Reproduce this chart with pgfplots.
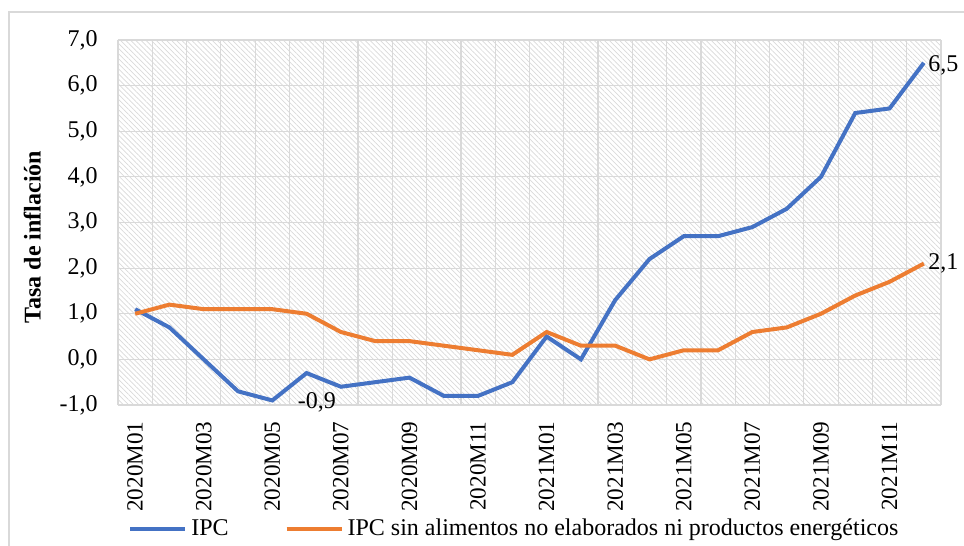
\documentclass[border=0pt]{standalone}
\usepackage{fontspec}
\setmainfont{Liberation Serif}
\usepackage{pgfplots}
\pgfplotsset{compat=1.18}
\usetikzlibrary{patterns.meta}
\definecolor{ipcblue}{HTML}{4472C4}
\definecolor{ipcorange}{HTML}{ED7D31}
\definecolor{gridgray}{HTML}{D9D9D9}
\begin{document}
\fontsize{12pt}{14pt}\selectfont
\begin{tikzpicture}
\path[use as bounding box] (-59pt,-70.5pt) rectangle (423pt,202.5pt);
\draw[gridgray, line width=0.6pt] (-54.5pt,-80pt) -- (-54.5pt,196.5pt) -- (430pt,196.5pt);
\begin{axis}[
  at={(0,0)}, anchor=south west,
  scale only axis, width=411.5pt, height=182.5pt,
  xmin=-0.5, xmax=23.5, ymin=-1, ymax=7,
  axis line style={draw=none},
  major tick length=0pt, minor tick length=0pt,
  xtick={0,2,...,22},
  xticklabels={2020M01,2020M03,2020M05,2020M07,2020M09,2020M11,2021M01,2021M03,2021M05,2021M07,2021M09,2021M11},
  minor xtick={-0.5,0.5,...,23.5},
  xminorgrids=true, xmajorgrids=false,
  ytick={-1,0,...,7},
  ymajorgrids=true,
  major grid style={gridgray, line width=0.6pt},
  minor grid style={gridgray, line width=0.6pt},
  axis background/.style={pattern={Lines[angle=-45,distance=1.8pt,line width=0.35pt]}, pattern color=black!15},
  xticklabel style={yshift=-4.5pt, rotate=90, anchor=east, inner sep=3.5pt, font=\fontsize{11.6pt}{13pt}\selectfont},
  yticklabel style={xshift=-6pt, font=\fontsize{12pt}{14pt}\selectfont},
  /pgf/number format/.cd, fixed, fixed zerofill, precision=1, use comma, assume math mode=true,
  /pgfplots/.cd,
  ylabel={Tasa de inflación},
  ylabel style={at={(axis description cs:-0.104,0.46)}, anchor=center, font=\bfseries\fontsize{12pt}{14pt}\selectfont},
  clip=false,
  legend columns=2,
  legend style={at={(axis description cs:0.012,-0.34)}, anchor=west, draw=none, fill=none, inner sep=0pt,
    font=\fontsize{12pt}{14pt}\selectfont,
    /tikz/every even column/.append style={column sep=26pt}},
  legend cell align=left,
  legend image code/.code={\draw[#1, line width=2pt] (0pt,0pt) -- (27.5pt,0pt);},
]
\addplot[ipcblue, line width=2pt] coordinates {
(0,1.1) (1,0.7) (2,0.0) (3,-0.7) (4,-0.9) (5,-0.3) (6,-0.6) (7,-0.5) (8,-0.4) (9,-0.8) (10,-0.8) (11,-0.5)
(12,0.5) (13,0.0) (14,1.3) (15,2.2) (16,2.7) (17,2.7) (18,2.9) (19,3.3) (20,4.0) (21,5.4) (22,5.5) (23,6.5)};
\addlegendentry{IPC}
\addplot[ipcorange, line width=2pt] coordinates {
(0,1.0) (1,1.2) (2,1.1) (3,1.1) (4,1.1) (5,1.0) (6,0.6) (7,0.4) (8,0.4) (9,0.3) (10,0.2) (11,0.1)
(12,0.6) (13,0.3) (14,0.3) (15,0.0) (16,0.2) (17,0.2) (18,0.6) (19,0.7) (20,1.0) (21,1.4) (22,1.7) (23,2.1)};
\addlegendentry{IPC sin alimentos no elaborados ni productos energéticos}
\node[anchor=west, inner sep=2pt] at (axis cs:23,6.45) {6,5};
\node[anchor=west, inner sep=2pt] at (axis cs:23,2.1) {2,1};
\node[anchor=west, inner sep=2pt] at (axis cs:4.62,-0.95) {-0,9};
\end{axis}
\end{tikzpicture}
\end{document}
